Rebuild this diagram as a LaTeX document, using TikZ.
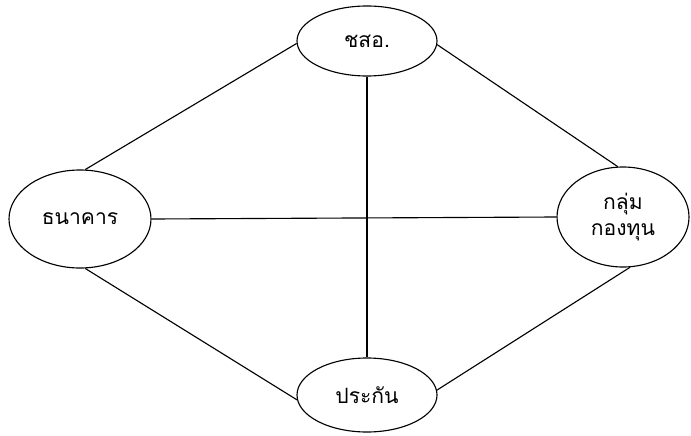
\documentclass[tikz,border=0pt]{standalone}
\usepackage{fontspec}
\usepackage{tikz}
\usetikzlibrary{shapes.geometric}
\newfontfamily\thaifont[Script=Thai]{Loma}

\begin{document}
\begin{tikzpicture}[
  bubble/.style={ellipse,draw,line width=0.8pt,inner sep=0pt,align=center,
    font=\thaifont\fontsize{15}{19}\selectfont},
  link/.style={line width=0.8pt}]
\useasboundingbox (0,0) rectangle (17.275,10.875);
\node[bubble,minimum width=3.5cm,minimum height=1.75cm] (chso) at (9.175,9.85) {ชสอ.};
\node[bubble,minimum width=3.55cm,minimum height=2.45cm] (bank) at (2.0,5.4) {ธนาคาร};
\node[bubble,minimum width=3.3cm,minimum height=2.5cm] (fund) at (15.575,5.45) {กลุ่ม\\กองทุน};
\node[bubble,minimum width=3.5cm,minimum height=1.85cm] (insur) at (9.175,1.0) {ประกัน};
\draw[link] (bank.84)--(chso.182);
\draw[link] (chso.-3)--(fund.96);
\draw[link] (bank.-84)--(insur.184);
\draw[link] (insur.4)--(fund.-82);
\draw[link] (chso.south)--(insur.north);
\draw[link] (bank.east)--(fund.west);
\end{tikzpicture}
\end{document}
